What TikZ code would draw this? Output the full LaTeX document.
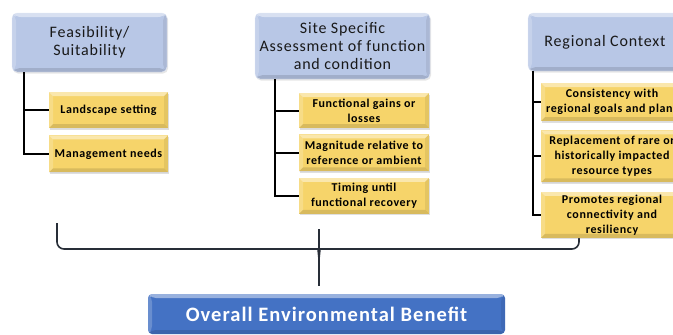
\documentclass[tikz,border=0pt]{standalone}
\usepackage{fontspec}
\setmainfont{Carlito}[LetterSpace=5]
\usetikzlibrary{positioning,shadows}
\definecolor{headfill}{RGB}{184,199,230}
\definecolor{itemfill}{RGB}{246,212,106}
\definecolor{totalfill}{RGB}{68,114,196}
\definecolor{bracegray}{RGB}{40,46,56}
\tikzset{
  bevel/.style={path picture={
      \fill[white, opacity=.45] (path picture bounding box.north west) -- (path picture bounding box.north east)
        -- ([shift={(-4pt,-4pt)}]path picture bounding box.north east) -- ([shift={(4pt,-4pt)}]path picture bounding box.north west) -- cycle;
      \fill[white, opacity=.2] (path picture bounding box.north west) -- ([shift={(4pt,-4pt)}]path picture bounding box.north west)
        -- ([shift={(4pt,4pt)}]path picture bounding box.south west) -- (path picture bounding box.south west) -- cycle;
      \fill[black, opacity=.12] (path picture bounding box.south west) -- ([shift={(4pt,4pt)}]path picture bounding box.south west)
        -- ([shift={(-4pt,4pt)}]path picture bounding box.south east) -- (path picture bounding box.south east) -- cycle;
      \fill[black, opacity=.07] (path picture bounding box.north east) -- ([shift={(-4pt,-4pt)}]path picture bounding box.north east)
        -- ([shift={(-4pt,4pt)}]path picture bounding box.south east) -- (path picture bounding box.south east) -- cycle;
  }},
  headbox/.style={rectangle, rounded corners=5pt, draw=white!60!headfill, fill=headfill, bevel,
                  drop shadow={opacity=.2, shadow xshift=1pt, shadow yshift=-1.5pt},
                  font=\fontsize{16}{18}\selectfont, text=black!90, align=center},
  itembox/.style={rectangle, fill=itemfill, bevel, inner sep=2pt,
                  drop shadow={opacity=.25, shadow xshift=1pt, shadow yshift=-1.5pt},
                  font=\bfseries\fontsize{12}{15}\selectfont, align=center},
  totalbox/.style={rectangle, rounded corners=4pt, fill=totalfill, bevel, text=white,
                   font=\bfseries\fontsize{20.5}{23}\selectfont},
  link/.style={line width=2pt, black},
  brace/.style={line width=1.6pt, bracegray},
}

\begin{document}
\begin{tikzpicture}[x=1pt, y=-1pt]
  \clip (0,0) rectangle (673,335);

  % bracket gathering the three columns
  \coordinate (braceL) at (57,223);
  \coordinate (braceR) at (579,223);
  \coordinate (braceM) at (319,249);
  \coordinate (braceTip) at (319,259);
  \coordinate (braceTop) at (319,229);
  \draw[brace, rounded corners=7pt] (braceL) |- ([xshift=-8pt]braceM) [sharp corners] .. controls ([xshift=-1pt]braceM) .. (braceTip);
  \draw[brace, rounded corners=7pt] (braceR) |- ([xshift=8pt]braceM) [sharp corners] .. controls ([xshift=1pt]braceM) .. (braceTip);

  % column heads
  \node[headbox, minimum width=155pt, minimum height=59pt] (feas) at (89.5,42.5) {Feasibility/\\Suitability};
  \node[headbox, minimum width=175pt, minimum height=66pt] (site) at (342.5,46) {Site Specific\\Assessment of function\\and condition};
  \node[headbox, minimum width=154pt, minimum height=58pt] (region) at (605,42) {Regional Context};

  % feasibility items
  \node[itembox, minimum width=119pt, minimum height=36pt] (land) at (108.5,110) {Landscape setting};
  \node[itembox, minimum width=119pt, minimum height=37pt, below=7pt of land] (mgmt) {Management needs};

  % site specific items
  \node[itembox, minimum width=130pt, minimum height=35pt] (gains) at (364,110.5) {Functional gains or\\losses};
  \node[itembox, minimum width=130pt, minimum height=37pt, below=6pt of gains] (magn) {Magnitude relative to\\reference or ambient};
  \node[itembox, minimum width=130pt, minimum height=36pt, below=6pt of magn] (timing) {Timing until\\functional recovery};

  % regional items
  \node[itembox, minimum width=142pt, minimum height=38pt] (consist) at (612,102) {Consistency with\\regional goals and plans};
  \node[itembox, minimum width=142pt, minimum height=52pt, below=9pt of consist] (rare) {Replacement of rare or\\historically impacted\\resource types};
  \node[itembox, minimum width=142pt, minimum height=46pt, below=9pt of rare] (conn) {Promotes regional\\connectivity and\\resiliency};

  % result
  \node[totalbox, minimum width=357pt, minimum height=40pt] (total) at (326.5,314) {Overall Environmental Benefit};

  % tree links
  \coordinate (feasdrop) at ([xshift=12pt]feas.south west);
  \coordinate (sitedrop) at ([xshift=20pt]site.south west);
  \coordinate (regiondrop) at ([xshift=5pt]region.south west);
  \draw[link] (feasdrop) |- (land.west);
  \draw[link] (feasdrop) |- (mgmt.west);
  \draw[link] (sitedrop) |- (gains.west);
  \draw[link] (sitedrop) |- (magn.west);
  \draw[link] (sitedrop) |- (timing.west);
  \draw[link] (regiondrop) |- (consist.west);
  \draw[link] (regiondrop) |- (rare.west);
  \draw[link] (regiondrop) |- (conn.west);

  \draw[brace, line width=2pt, shorten >=8pt] (braceTop) -- (braceTop |- total.north);
\end{tikzpicture}
\end{document}
